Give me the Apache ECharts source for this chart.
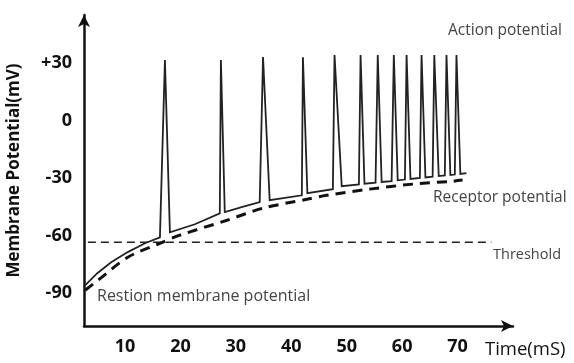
<!DOCTYPE html>
<html>
<head>
<meta charset="utf-8">
<script src="https://cdn.jsdelivr.net/npm/echarts@6/dist/echarts.min.js"></script>
<style>
  html, body { margin: 0; padding: 0; background: #fff; }
  #chart { width: 574px; height: 363px; }
</style>
</head>
<body>
<div id="chart"></div>
<script>
// time (ms), potential (mV)
var membrane = [
  [2.8, -85.8], [5.0, -79.5], [7.5, -73.8], [10.5, -68.5], [13.6, -63.9], [16.3, -60.8],
  [17.2, 31.6], [18.1, -58.2], [22.6, -54.0], [27.1, -48.3],
  [27.3, 31.6], [28.0, -47.7], [31.2, -45.0], [34.3, -42.5],
  [34.9, 33.1], [36.1, -41.5], [41.9, -38.9],
  [42.1, 33.0], [42.9, -37.8], [47.5, -35.7],
  [47.8, 34.2], [49.1, -34.2], [52.2, -33.2],
  [52.5, 34.2], [53.2, -32.9], [55.2, -32.3],
  [55.6, 34.2], [56.3, -32.0], [58.1, -31.5],
  [58.5, 34.2], [59.2, -31.1], [60.5, -30.7],
  [60.8, 34.2], [61.5, -30.4], [63.2, -29.9],
  [63.5, 34.2], [64.2, -29.6], [65.5, -29.2],
  [65.8, 34.2], [66.6, -28.9], [67.7, -28.6],
  [68.0, 34.2], [68.7, -28.3], [69.5, -28.1],
  [69.8, 34.2], [70.5, -27.8], [71.6, -27.4]
];
var receptor = [
  [2.8, -88.4], [5.1, -83.2], [10.5, -71.2], [16.3, -63.9], [19.9, -59.7],
  [28.4, -51.9], [34.9, -45.6], [42.8, -41.0], [46.4, -38.9], [54.1, -35.7],
  [61.9, -33.1], [69.1, -31.6], [70.9, -31.0]
];
var threshold = [[3.3, -63.4], [76.1, -63.4]];
var xTicks = [10, 20, 30, 40, 50, 60, 70];
var yTicks = [-90, -60, -30, 0, 30];

var chart = echarts.init(document.getElementById("chart"));
var labelFont = "'Open Sans', 'Noto Sans', sans-serif";

chart.setOption({
  animation: false,
  grid: { left: 84, right: 61, top: 15, bottom: 37, containLabel: false, outerBoundsMode: "none" },
  xAxis: {
    type: "value",
    min: 2.6,
    max: 80,
    axisLine: {
      show: true,
      onZero: false,
      lineStyle: { color: "#111", width: 2.5 },
      symbol: ["none", "arrow"],
      symbolSize: [9, 12]
    },
    axisTick: { show: false },
    splitLine: { show: false },
    axisLabel: {
      customValues: xTicks,
      margin: 12,
      color: "#111",
      fontSize: 18,
      fontWeight: "bold",
      fontFamily: labelFont
    }
  },
  yAxis: {
    type: "value",
    min: -107,
    max: 55,
    name: "Membrane Potential(mV)",
    nameLocation: "middle",
    nameRotate: 90,
    nameGap: 61,
    nameTextStyle: {
      color: "#111",
      fontSize: 17,
      fontWeight: "bold",
      fontFamily: labelFont
    },
    axisLine: {
      show: true,
      onZero: false,
      lineStyle: { color: "#111", width: 2.5 },
      symbol: ["none", "arrow"],
      symbolSize: [9, 12]
    },
    axisTick: { show: false },
    splitLine: { show: false },
    axisLabel: {
      customValues: yTicks,
      margin: 12,
      color: "#111",
      fontSize: 18,
      fontWeight: "bold",
      fontFamily: labelFont,
      formatter: function (v) { return v > 0 ? "+" + v : "" + v; }
    }
  },
  series: [
    {
      name: "Threshold",
      type: "line",
      data: threshold,
      symbol: "none",
      lineStyle: { color: "#222", width: 1.5, type: [8, 5] }
    },
    {
      name: "Receptor potential",
      type: "line",
      data: receptor,
      symbol: "none",
      smooth: 0.3,
      lineStyle: { color: "#111", width: 3, type: [10, 7] }
    },
    {
      name: "Membrane",
      type: "line",
      data: membrane,
      symbol: "none",
      lineStyle: { color: "#222", width: 1.8, join: "miter", miterLimit: 20 }
    }
  ],
  graphic: [
    { type: "text", left: 448, top: 23, style: { text: "Action potential", fill: "#444", font: "15.5px 'Open Sans', sans-serif" } },
    { type: "text", left: 433, top: 190, style: { text: "Receptor potential", fill: "#444", font: "15.5px 'Open Sans', sans-serif" } },
    { type: "text", left: 493, top: 247, style: { text: "Threshold", fill: "#444", font: "14.5px 'Open Sans', sans-serif" } },
    { type: "text", left: 97, top: 288, style: { text: "Restion membrane potential", fill: "#444", font: "16px 'Open Sans', sans-serif" } },
    { type: "text", left: 485, top: 340, style: { text: "Time(mS)", fill: "#111", font: "18.5px 'Open Sans', sans-serif" } }
  ]
});
</script>
</body>
</html>
